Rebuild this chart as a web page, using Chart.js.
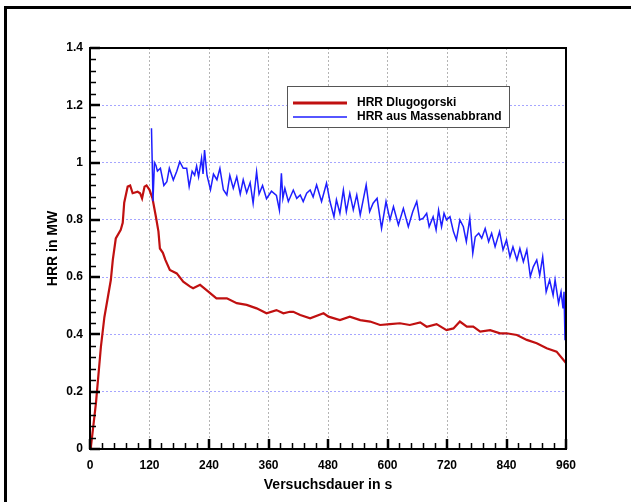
<!DOCTYPE html>
<html>
<head>
<meta charset="utf-8">
<script src="https://cdn.jsdelivr.net/npm/chart.js@4"></script>
<style>
html, body { margin: 0; padding: 0; background: #fff; }
</style>
</head>
<body>
<canvas id="hrr-chart" width="631" height="502"></canvas>
<script>
"use strict";
// HRR Dlugogorski (s / MW)
const dlugoTime = [0, 2, 12, 22, 29, 36, 42, 46, 52, 62, 66, 69, 76, 81, 86, 96, 101, 105, 110, 114, 120, 126, 133, 138, 141, 147, 152, 161, 175, 188, 202, 208, 222, 235, 255, 276, 296, 316, 336, 356, 376, 390, 403, 410, 424, 444, 471, 481, 504, 524, 545, 565, 585, 605, 625, 645, 666, 679, 699, 719, 733, 746, 760, 773, 787, 807, 827, 840, 861, 881, 901, 921, 941, 960];
const dlugoHrr = [0, 0.01, 0.16, 0.357, 0.46, 0.53, 0.59, 0.66, 0.735, 0.765, 0.79, 0.86, 0.916, 0.92, 0.893, 0.898, 0.893, 0.875, 0.916, 0.92, 0.905, 0.875, 0.81, 0.76, 0.70, 0.685, 0.66, 0.625, 0.613, 0.584, 0.567, 0.561, 0.573, 0.555, 0.526, 0.526, 0.509, 0.503, 0.491, 0.474, 0.485, 0.474, 0.479, 0.479, 0.468, 0.456, 0.474, 0.462, 0.450, 0.462, 0.450, 0.445, 0.433, 0.436, 0.439, 0.433, 0.442, 0.427, 0.436, 0.415, 0.421, 0.445, 0.427, 0.427, 0.410, 0.415, 0.404, 0.404, 0.398, 0.381, 0.369, 0.352, 0.340, 0.300];

// HRR aus Massenabbrand (s / MW)
const massTime = [124, 126, 127, 130, 133, 136, 142, 149, 155, 160, 168, 175, 181, 188, 195, 200, 206, 211, 215, 219, 225, 228, 231, 236, 243, 249, 256, 262, 269, 276, 282, 289, 296, 303, 309, 316, 323, 329, 336, 341, 348, 356, 366, 376, 382, 386, 389, 393, 400, 410, 417, 424, 430, 437, 444, 450, 457, 467, 477, 484, 492, 497, 504, 511, 517, 524, 531, 538, 545, 551, 557, 564, 571, 579, 588, 597, 605, 612, 622, 632, 642, 651, 659, 665, 672, 679, 684, 692, 698, 703, 709, 714, 719, 726, 733, 739, 746, 753, 759, 766, 772, 777, 784, 790, 797, 804, 810, 817, 826, 833, 840, 847, 853, 861, 867, 874, 881, 888, 894, 901, 907, 913, 920, 927, 934, 938, 945, 950, 954, 956, 958];
const massHrr = [1.12, 0.96, 0.865, 1.0, 0.99, 0.97, 0.98, 0.92, 0.933, 0.98, 0.939, 0.97, 1.003, 0.98, 0.98, 0.916, 0.97, 0.956, 0.988, 0.95, 1.015, 0.96, 1.044, 0.955, 0.905, 0.96, 0.94, 0.98, 0.905, 0.887, 0.955, 0.91, 0.95, 0.89, 0.94, 0.895, 0.93, 0.858, 0.968, 0.89, 0.92, 0.874, 0.9, 0.885, 0.834, 0.963, 0.875, 0.91, 0.864, 0.904, 0.875, 0.887, 0.864, 0.893, 0.904, 0.88, 0.922, 0.864, 0.928, 0.864, 0.811, 0.87, 0.823, 0.904, 0.829, 0.893, 0.835, 0.887, 0.817, 0.87, 0.922, 0.829, 0.858, 0.875, 0.77, 0.864, 0.8, 0.846, 0.782, 0.84, 0.776, 0.829, 0.864, 0.8, 0.806, 0.823, 0.776, 0.811, 0.765, 0.834, 0.776, 0.823, 0.8, 0.811, 0.759, 0.73, 0.8, 0.776, 0.724, 0.806, 0.683, 0.741, 0.753, 0.736, 0.77, 0.724, 0.753, 0.706, 0.759, 0.695, 0.73, 0.671, 0.706, 0.66, 0.7, 0.654, 0.695, 0.602, 0.636, 0.66, 0.607, 0.671, 0.549, 0.59, 0.537, 0.59, 0.509, 0.549, 0.491, 0.549, 0.38];

const seriesLabels = ["HRR Dlugogorski", "HRR aus Massenabbrand"];
const xTickStep = 120;
const xMinorStep = 24;
const yTickStep = 0.2;
const yMinorStep = 0.04;

const FONT = "'Liberation Sans', Arial, sans-serif";

const toPoints = (xs, ys) => xs.map((x, i) => ({ x: x, y: ys[i] }));

const frameTicksLegend = {
    id: "frameTicksLegend",
    beforeDraw(chart) {
        const ctx = chart.ctx;
        ctx.save();
        ctx.fillStyle = "#fff";
        ctx.fillRect(0, 0, chart.width, chart.height);
        ctx.fillStyle = "#000";
        ctx.fillRect(4, 6, chart.width - 4, 3);
        ctx.fillRect(4, 6, 3, chart.height - 6);
        ctx.restore();
    },
    afterDatasetsDraw(chart) {
        const { ctx, chartArea: a, scales } = chart;
        const x = scales.x, y = scales.y;
        ctx.save();
        ctx.strokeStyle = "#000";
        // inward ticks, minor then major
        ctx.lineWidth = 1.5;
        ctx.beginPath();
        for (let t = 0; t <= x.max; t += xMinorStep) {
            if (t % xTickStep === 0) continue;
            const px = Math.round(x.getPixelForValue(t)) + 0.5;
            ctx.moveTo(px, a.bottom);
            ctx.lineTo(px, a.bottom - 6);
        }
        for (let i = 0; i <= Math.round(y.max / yMinorStep); i++) {
            if (i % 5 === 0) continue;
            const py = Math.round(y.getPixelForValue(i * yMinorStep)) + 0.5;
            ctx.moveTo(a.left, py);
            ctx.lineTo(a.left + 6, py);
        }
        ctx.stroke();
        ctx.lineWidth = 2.5;
        ctx.beginPath();
        for (let t = 0; t <= x.max; t += xTickStep) {
            const px = Math.round(x.getPixelForValue(t));
            ctx.moveTo(px, a.bottom);
            ctx.lineTo(px, a.bottom - 10);
        }
        for (let i = 0; i <= Math.round(y.max / yTickStep); i++) {
            const py = Math.round(y.getPixelForValue(i * yTickStep));
            ctx.moveTo(a.left, py);
            ctx.lineTo(a.left + 10, py);
        }
        ctx.stroke();
        // axis box
        ctx.lineWidth = 2;
        ctx.strokeRect(a.left, a.top, a.right - a.left, a.bottom - a.top);
        ctx.restore();
    },
    afterDraw(chart) {
        const ctx = chart.ctx;
        const sets = chart.data.datasets;
        ctx.save();
        ctx.fillStyle = "#fff";
        ctx.fillRect(287, 86, 222, 41);
        ctx.strokeStyle = "#555";
        ctx.lineWidth = 1;
        ctx.strokeRect(287.5, 86.5, 222, 41);
        ctx.font = "bold 12px " + FONT;
        ctx.textBaseline = "middle";
        ctx.fillStyle = "#000";
        const rows = [103, 117];
        sets.forEach((ds, i) => {
            ctx.strokeStyle = ds.borderColor;
            ctx.lineWidth = i === 0 ? 3 : 1.5;
            ctx.beginPath();
            ctx.moveTo(293, rows[i]);
            ctx.lineTo(347, rows[i]);
            ctx.stroke();
            ctx.fillText(ds.label, 357, rows[i]);
        });
        ctx.restore();
    },
};

const loadHrrChart = () => {
    const canvas = document.getElementById("hrr-chart");
    if (!canvas) {
        return;
    }
    const chartConfig = {
        type: "line",
        data: {
            datasets: [
                {
                    label: seriesLabels[0],
                    data: toPoints(dlugoTime, dlugoHrr),
                    borderColor: "rgb(192,16,16)",
                    borderWidth: 2.2,
                    pointRadius: 0,
                    tension: 0,
                    order: 1,
                },
                {
                    label: seriesLabels[1],
                    data: toPoints(massTime, massHrr),
                    borderColor: "rgb(30,30,255)",
                    borderWidth: 1.5,
                    pointRadius: 0,
                    tension: 0,
                    order: 0,
                },
            ],
        },
        options: {
            responsive: false,
            animation: false,
            devicePixelRatio: 1,
            layout: { padding: { left: 0, top: 48, right: 65, bottom: 0 } },
            plugins: {
                legend: { display: false },
                tooltip: { enabled: false },
            },
            scales: {
                x: {
                    type: "linear",
                    min: 0,
                    max: 960,
                    afterFit: (s) => { s.height = 53; },
                    ticks: {
                        stepSize: xTickStep,
                        color: "#000",
                        padding: 9,
                        maxRotation: 0,
                        font: { family: FONT, size: 12, weight: "bold" },
                    },
                    grid: { color: "#b4b4b4", lineWidth: 1, drawTicks: false },
                    border: { display: false, dash: [2, 2] },
                    title: {
                        display: true,
                        text: "Versuchsdauer in s",
                        color: "#000",
                        padding: { top: 0, bottom: 8 },
                        font: { family: FONT, size: 14, weight: "bold" },
                    },
                },
                y: {
                    type: "linear",
                    min: 0,
                    max: 1.4,
                    afterFit: (s) => { s.width = 90; },
                    ticks: {
                        stepSize: yTickStep,
                        color: "#000",
                        padding: 7,
                        font: { family: FONT, size: 12, weight: "bold" },
                        callback: (v) => String(Number(v.toFixed(1))),
                    },
                    grid: { color: "rgb(165,165,255)", lineWidth: 1, drawTicks: false },
                    border: { display: false, dash: [2, 2] },
                    title: {
                        display: true,
                        text: "HRR in MW",
                        color: "#000",
                        padding: { top: 45, bottom: 0 },
                        font: { family: FONT, size: 14, weight: "bold" },
                    },
                },
            },
        },
        plugins: [frameTicksLegend],
    };
    new Chart(canvas, chartConfig);
};
window.addEventListener("load", loadHrrChart);
</script>
</body>
</html>
